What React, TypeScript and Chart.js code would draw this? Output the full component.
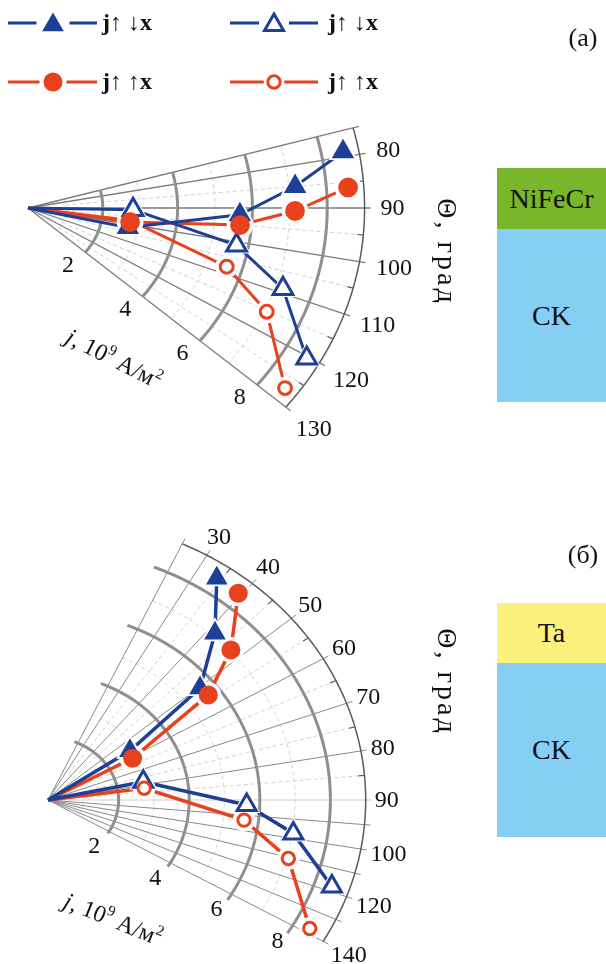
import React, { useEffect, useRef } from 'react';
import { Chart, registerables } from 'chart.js';

Chart.register(...registerables);

// ---------------- shared axis data ----------------
const radialTicks = [2, 4, 6, 8];
const radialMinorTicks = [1, 3, 5, 7];
const radialMax = 9;
const seriesLabels = ['j↑ ↓x', 'j↑ ↓x', 'j↑ ↑x', 'j↑ ↑x'];

// ---------------- panel (а): NiFeCr / CK ----------------
const aThetaRange = [75, 130];
const aThetaTicks = [80, 90, 100, 110, 120, 130];
const aThetaTickLabels = ['80', '90', '100', '110', '120', '130'];
const aSpokes = [75, 80, 90, 100, 110, 120, 130];
const aMinorSpokes = [85, 95, 105, 115, 125];

const aUpDownFilledJ = [0, 2.73, 5.67, 7.17, 8.58];
const aUpDownFilledTheta = [90, 102, 92, 85, 79];
const aUpDownOpenJ = [0, 2.81, 5.68, 7.21, 8.64];
const aUpDownOpenTheta = [90, 91, 101, 109, 120.4];
const aUpUpFilledJ = [0, 2.76, 5.69, 7.14, 8.58];
const aUpUpFilledTheta = [90, 98.5, 95, 90.7, 86];
const aUpUpOpenJ = [0, 2.76, 5.58, 7.06, 8.64];
const aUpUpOpenTheta = [90, 97.5, 107.8, 115.3, 127.3];

// ---------------- panel (б): Ta / CK ----------------
const bThetaRange = [25, 120];
const bThetaTicks = [30, 40, 50, 60, 70, 80, 90, 100, 110, 120];
const bThetaTickLabels = ['30', '40', '50', '60', '70', '80', '90', '100', '120', '140'];
const bSpokes = [25, 30, 40, 50, 60, 70, 80, 95, 100, 105, 110, 115, 120];
const bLightSpokes = [90];
const bMinorSpokes = [35, 45, 55, 65, 75, 85];

const bUpDownFilledJ = [0, 2.8, 5.59, 7.11, 8.53];
const bUpDownFilledTheta = [60, 56, 50.4, 41.7, 34.1];
const bUpDownOpenJ = [0, 2.76, 5.63, 7.03, 8.5];
const bUpDownOpenTheta = [80, 77.9, 91.6, 98.7, 108.9];
const bUpUpFilledJ = [0, 2.74, 5.64, 7.05, 8.51];
const bUpUpFilledTheta = [60, 61, 53.6, 47.3, 39.3];
const bUpUpOpenJ = [0, 2.75, 5.59, 7.06, 8.47];
const bUpUpOpenTheta = [80, 82.2, 96.6, 105.3, 118.9];

// ---------------- styles ----------------
const BLUE = '#1d3f95';
const RED = '#e8411d';
const SERIF = '"Liberation Serif", "Times New Roman", serif';

type Marker = 'triangle' | 'circle';
interface Series {
  label: string;
  j: number[];
  theta: number[];
  color: string;
  marker: Marker;
  filled: boolean;
  radius: number;
  layer: number;
}

function makeSeries(j1: number[], t1: number[], j2: number[], t2: number[], j3: number[], t3: number[], j4: number[], t4: number[], big: number): Series[] {
  return [
    { label: seriesLabels[0], j: j1, theta: t1, color: BLUE, marker: 'triangle', filled: true, radius: 12.5 * big, layer: 4 },
    { label: seriesLabels[1], j: j2, theta: t2, color: BLUE, marker: 'triangle', filled: false, radius: 11 * big, layer: 3 },
    { label: seriesLabels[2], j: j3, theta: t3, color: RED, marker: 'circle', filled: true, radius: 9.5 * big, layer: 1 },
    { label: seriesLabels[3], j: j4, theta: t4, color: RED, marker: 'circle', filled: false, radius: 6.2 * big, layer: 2 },
  ];
}

const toXY = (j: number, th: number) => {
  const t = (th * Math.PI) / 180;
  return { x: j * Math.sin(t), y: j * Math.cos(t) };
};

interface Geom {
  width: number;
  height: number;
  ox: number;
  oy: number;
  sx: number;
  sy: number;
  lineWidth: number;
}

interface GridCfg {
  range: number[];
  arcRange: number[];
  ticks: number[];
  tickLabels: string[];
  spokes: number[];
  lightSpokes: number[];
  minorSpokes: number[];
  spokeColor: string;
  spokeWidth: number;
  labelBase: number;
  title: { x: number; y: number; rot: number };
  thetaTitle: { x: number; y: number };
}

function drawMarker(ctx: CanvasRenderingContext2D, kind: Marker, x: number, y: number, r: number, fill: string, stroke: string, lw: number) {
  ctx.beginPath();
  if (kind === 'circle') {
    ctx.arc(x, y, r, 0, Math.PI * 2);
  } else {
    for (let k = 0; k < 3; k++) {
      const a = (k * 2 * Math.PI) / 3;
      const px = x + Math.sin(a) * r;
      const py = y - Math.cos(a) * r;
      if (k === 0) ctx.moveTo(px, py);
      else ctx.lineTo(px, py);
    }
    ctx.closePath();
  }
  ctx.fillStyle = fill;
  ctx.fill();
  if (lw > 0) {
    ctx.lineWidth = lw;
    ctx.strokeStyle = stroke;
    ctx.stroke();
  }
}

function makeGridPlugin(g: GridCfg) {
  const geomHelpers = (chart: any) => {
    const xs = chart.scales.x;
    const ys = chart.scales.y;
    const P = (r: number, th: number): [number, number] => {
      const p = toXY(r, th);
      return [xs.getPixelForValue(p.x), ys.getPixelForValue(p.y)];
    };
    const U = (th: number): [number, number] => {
      const a = P(0, th);
      const b = P(1, th);
      const dx = b[0] - a[0];
      const dy = b[1] - a[1];
      const L = Math.hypot(dx, dy);
      return [dx / L, dy / L];
    };
    const T = (th: number): [number, number] => {
      const a = P(1, th);
      const b = P(1, th + 0.1);
      const dx = b[0] - a[0];
      const dy = b[1] - a[1];
      const L = Math.hypot(dx, dy);
      return [dx / L, dy / L];
    };
    return { P, U, T };
  };
  return {
    id: 'sectorGrid',
    beforeDatasetsDraw(chart: any) {
      const ctx: CanvasRenderingContext2D = chart.ctx;
      const { P, U } = geomHelpers(chart);
      const R = radialMax;
      const arc = (r: number, t0: number, t1: number) => {
        const n = Math.ceil((t1 - t0) / 0.5);
        ctx.beginPath();
        for (let i = 0; i <= n; i++) {
          const t = t0 + ((t1 - t0) * i) / n;
          const [x, y] = P(r, t);
          if (i === 0) ctx.moveTo(x, y);
          else ctx.lineTo(x, y);
        }
        ctx.stroke();
      };
      const line = (a: number[], b: number[]) => {
        ctx.beginPath();
        ctx.moveTo(a[0], a[1]);
        ctx.lineTo(b[0], b[1]);
        ctx.stroke();
      };
      ctx.save();
      ctx.lineCap = 'butt';
      ctx.setLineDash([4, 3]);
      ctx.strokeStyle = '#d2d2d2';
      ctx.lineWidth = 1;
      radialMinorTicks.forEach((r) => arc(r, g.range[0], g.range[1]));
      g.minorSpokes.forEach((th) => line(P(1, th), P(R, th)));
      ctx.setLineDash([]);
      ctx.strokeStyle = '#cfcfcf';
      ctx.lineWidth = 1.2;
      g.lightSpokes.forEach((th) => {
        const e = P(R, th);
        const u = U(th);
        line(P(0, th), [e[0] + u[0] * 6, e[1] + u[1] * 6]);
      });
      ctx.strokeStyle = g.spokeColor;
      ctx.lineWidth = g.spokeWidth;
      g.spokes.forEach((th) => {
        const e = P(R, th);
        const u = U(th);
        line(P(0, th), [e[0] + u[0] * 6, e[1] + u[1] * 6]);
      });
      ctx.strokeStyle = '#8f8f8f';
      ctx.lineWidth = 3;
      radialTicks.forEach((r) => arc(r, g.arcRange[0], g.arcRange[1]));
      ctx.strokeStyle = '#5a5a5a';
      ctx.lineWidth = 1.5;
      arc(R, g.range[0], g.range[1]);
      ctx.lineWidth = 1.2;
      g.minorSpokes.forEach((th) => {
        const e = P(R, th);
        const u = U(th);
        line([e[0] - u[0] * 6, e[1] - u[1] * 6], e);
      });
      ctx.restore();
    },
    afterDraw(chart: any) {
      const ctx: CanvasRenderingContext2D = chart.ctx;
      const { P, U, T } = geomHelpers(chart);
      const R = radialMax;
      ctx.save();
      ctx.fillStyle = '#111';
      ctx.font = `24px ${SERIF}`;
      ctx.textAlign = 'center';
      ctx.textBaseline = 'middle';
      g.ticks.forEach((th, i) => {
        const txt = g.tickLabels[i];
        const w = ctx.measureText(txt).width;
        const e = P(R, th);
        const u = U(th);
        const d = g.labelBase + (w / 2) * Math.abs(u[0]) + 8 * Math.abs(u[1]);
        ctx.fillText(txt, e[0] + u[0] * d, e[1] + u[1] * d + 1);
      });
      const tb = g.range[1];
      radialTicks.forEach((r) => {
        const e = P(r, tb);
        const u = U(tb);
        const t = T(tb);
        ctx.fillText(String(r), e[0] + t[0] * 21 - u[0] * 4, e[1] + t[1] * 21 - u[1] * 4);
      });
      ctx.save();
      ctx.translate(g.title.x, g.title.y);
      ctx.rotate((g.title.rot * Math.PI) / 180);
      ctx.textAlign = 'left';
      ctx.textBaseline = 'alphabetic';
      const parts: [string, string, number][] = [
        ['j', `italic 24px ${SERIF}`, 0],
        [', 10', `24px ${SERIF}`, 0],
        ['9', `15px ${SERIF}`, -10],
        [' A/м', `24px ${SERIF}`, 0],
        ['2', `15px ${SERIF}`, -10],
      ];
      let cx = 0;
      parts.forEach(([s, f, dy]) => {
        ctx.font = f;
        ctx.fillText(s, cx, dy);
        cx += ctx.measureText(s).width + (s === 'j' ? 1 : 0);
      });
      ctx.restore();
      ctx.save();
      ctx.translate(g.thetaTitle.x, g.thetaTitle.y);
      ctx.rotate(Math.PI / 2);
      ctx.font = `28px ${SERIF}`;
      (ctx as any).letterSpacing = '3px';
      ctx.textAlign = 'center';
      ctx.textBaseline = 'middle';
      ctx.fillText('Θ, град', 2, 0);
      ctx.restore();
      ctx.restore();
    },
  };
}

function makeLegendPlugin(series: Series[]) {
  const slots = [
    { x0: 8, x1: 97, mx: 53, tx: 102, y: 23 },
    { x0: 230, x1: 318, mx: 274, tx: 328, y: 23 },
    { x0: 8, x1: 97, mx: 53, tx: 102, y: 82 },
    { x0: 230, x1: 318, mx: 274, tx: 328, y: 82 },
  ];
  return {
    id: 'sectorLegend',
    afterDraw(chart: any) {
      const ctx: CanvasRenderingContext2D = chart.ctx;
      ctx.save();
      series.forEach((s, i) => {
        const sl = slots[i];
        const gap = s.radius + 4;
        const my = s.marker === 'triangle' ? sl.y + 2 : sl.y;
        ctx.strokeStyle = s.color;
        ctx.lineWidth = 3;
        ctx.beginPath();
        ctx.moveTo(sl.x0, sl.y);
        ctx.lineTo(sl.mx - gap, sl.y);
        ctx.moveTo(sl.mx + gap, sl.y);
        ctx.lineTo(sl.x1, sl.y);
        ctx.stroke();
        drawMarker(ctx, s.marker, sl.mx, my, s.radius, s.filled ? s.color : '#ffffff', s.color, s.filled ? 0 : 3);
        ctx.fillStyle = '#111';
        ctx.font = `bold 24px ${SERIF}`;
        ctx.textAlign = 'left';
        ctx.textBaseline = 'middle';
        ctx.fillText(s.label, sl.tx, sl.y + 1);
      });
      ctx.restore();
    },
  };
}

function buildChart(canvas: HTMLCanvasElement, geom: Geom, series: Series[], grid: GridCfg, extra: any[]) {
  const { width, height, ox, oy, sx, sy } = geom;
  const xmin = -ox / sx;
  const xmax = (width - ox) / sx;
  const ymax = oy / sy;
  const ymin = -(height - oy) / sy;
  const datasets: any[] = [];
  series.forEach((s, i) => {
    const pts = s.j.map((j, k) => toXY(j, s.theta[k]));
    const mpts = pts.filter((_, k) => s.j[k] > 0);
    datasets.push({
      label: s.label,
      data: pts,
      showLine: true,
      borderColor: s.color,
      borderWidth: geom.lineWidth,
      pointRadius: 0,
      tension: 0,
      order: 40 + i,
    });
    datasets.push({
      label: s.label + ' gap',
      data: mpts,
      showLine: false,
      pointStyle: s.marker,
      pointRadius: s.radius + (s.filled ? 3.5 : 5),
      pointBackgroundColor: '#ffffff',
      pointBorderColor: '#ffffff',
      pointBorderWidth: 0,
      order: 30 + i,
    });
    datasets.push({
      label: s.label + ' marker',
      data: mpts,
      showLine: false,
      pointStyle: s.marker,
      pointRadius: s.radius,
      pointBackgroundColor: s.filled ? s.color : '#ffffff',
      pointBorderColor: s.color,
      pointBorderWidth: s.filled ? 0 : 3,
      order: 10 + s.layer,
    });
  });
  return new Chart(canvas, {
    type: 'scatter',
    data: { datasets },
    options: {
      animation: false,
      responsive: false,
      maintainAspectRatio: false,
      events: [],
      layout: { padding: 0, autoPadding: false },
      scales: {
        x: { type: 'linear', display: false, min: xmin, max: xmax },
        y: { type: 'linear', display: false, min: ymin, max: ymax },
      },
      plugins: { legend: { display: false }, tooltip: { enabled: false } },
    },
    plugins: [makeGridPlugin(grid), ...extra],
  });
}

const geomA: Geom = { width: 606, height: 460, ox: 28, oy: 208, sx: 37.4, sy: 34.4, lineWidth: 3 };
const geomB: Geom = { width: 606, height: 504, ox: 48, oy: 340, sx: 35.3, sy: 31.4, lineWidth: 3.5 };

const gridA: GridCfg = {
  range: aThetaRange,
  arcRange: aThetaRange,
  ticks: aThetaTicks,
  tickLabels: aThetaTickLabels,
  spokes: aSpokes,
  lightSpokes: [],
  minorSpokes: aMinorSpokes,
  spokeColor: '#7c7c7c',
  spokeWidth: 1.3,
  labelBase: 16,
  title: { x: 64, y: 342, rot: 27 },
  thetaTitle: { x: 445, y: 250 },
};

const gridB: GridCfg = {
  range: bThetaRange,
  arcRange: [bThetaRange[0] - 3, bThetaRange[1] + 2],
  ticks: bThetaTicks,
  tickLabels: bThetaTickLabels,
  spokes: bSpokes,
  lightSpokes: bLightSpokes,
  minorSpokes: bMinorSpokes,
  spokeColor: '#8a8a8a',
  spokeWidth: 1,
  labelBase: 9,
  title: { x: 62, y: 447, rot: 22 },
  thetaTitle: { x: 445, y: 220 },
};

const blockText: React.CSSProperties = {
  position: 'absolute',
  left: 497,
  width: 109,
  display: 'flex',
  alignItems: 'center',
  justifyContent: 'center',
  fontFamily: SERIF,
  fontSize: 28,
  color: '#111',
};

export default function App() {
  const refA = useRef<HTMLCanvasElement>(null);
  const refB = useRef<HTMLCanvasElement>(null);

  useEffect(() => {
    const seriesA = makeSeries(aUpDownFilledJ, aUpDownFilledTheta, aUpDownOpenJ, aUpDownOpenTheta, aUpUpFilledJ, aUpUpFilledTheta, aUpUpOpenJ, aUpUpOpenTheta, 1.04);
    const seriesB = makeSeries(bUpDownFilledJ, bUpDownFilledTheta, bUpDownOpenJ, bUpDownOpenTheta, bUpUpFilledJ, bUpUpFilledTheta, bUpUpOpenJ, bUpUpOpenTheta, 1);
    const legendSeries = makeSeries(aUpDownFilledJ, aUpDownFilledTheta, aUpDownOpenJ, aUpDownOpenTheta, aUpUpFilledJ, aUpUpFilledTheta, aUpUpOpenJ, aUpUpOpenTheta, 1);
    const cA = buildChart(refA.current!, geomA, seriesA, gridA, [makeLegendPlugin(legendSeries)]);
    const cB = buildChart(refB.current!, geomB, seriesB, gridB, []);
    return () => {
      cA.destroy();
      cB.destroy();
    };
  }, []);

  return (
    <div style={{ position: 'absolute', left: 0, top: 0, width: 606, height: 964, background: '#fff', overflow: 'hidden' }}>
      <canvas ref={refA} width={606} height={460} style={{ position: 'absolute', left: 0, top: 0 }} />
      <canvas ref={refB} width={606} height={504} style={{ position: 'absolute', left: 0, top: 460 }} />
      <div style={{ position: 'absolute', left: 560, top: 22, width: 46, height: 32, fontFamily: SERIF, fontSize: 26, lineHeight: '32px', textAlign: 'center', color: '#111' }}>(а)</div>
      <div style={{ position: 'absolute', left: 560, top: 539, width: 46, height: 32, fontFamily: SERIF, fontSize: 26, lineHeight: '32px', textAlign: 'center', color: '#111' }}>(б)</div>
      <div style={{ ...blockText, top: 168, height: 61, background: '#78b62b' }}>NiFeCr</div>
      <div style={{ ...blockText, top: 229, height: 173, background: '#85cff4' }}>CK</div>
      <div style={{ ...blockText, top: 603, height: 60, background: '#fcf07f' }}>Ta</div>
      <div style={{ ...blockText, top: 663, height: 174, background: '#85cff4' }}>CK</div>
    </div>
  );
}
